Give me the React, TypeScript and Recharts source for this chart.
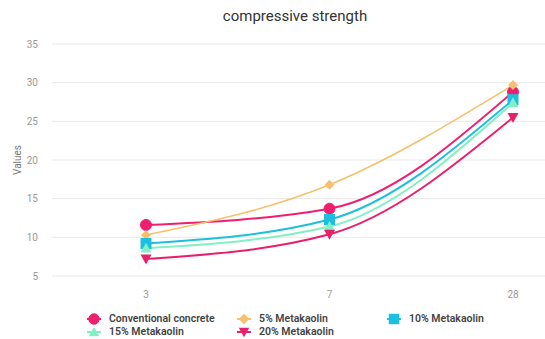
import React from "react";
import { LineChart, Line, XAxis, YAxis, CartesianGrid } from "recharts";

const categories = ["3", "7", "28"];
const conventional = [11.6, 13.7, 28.8];
const mk5 = [10.3, 16.8, 29.7];
const mk10 = [9.2, 12.3, 27.8];
const mk15 = [8.6, 11.4, 27.4];
const mk20 = [7.2, 10.4, 25.5];
const yTicks = [5, 10, 15, 20, 25, 30, 35];

const series = [
  { key: "c", name: "Conventional concrete", values: conventional, color: "#ee1f6f", shape: "circle", width: 2 },
  { key: "m5", name: "5% Metakaolin", values: mk5, color: "#f6c06c", shape: "diamond", width: 1.5 },
  { key: "m10", name: "10% Metakaolin", values: mk10, color: "#1cbfe0", shape: "square", width: 2 },
  { key: "m15", name: "15% Metakaolin", values: mk15, color: "#83efc4", shape: "triangle", width: 2 },
  { key: "m20", name: "20% Metakaolin", values: mk20, color: "#e8206c", shape: "invtriangle", width: 2 },
];

const data = categories.map((c, i) => {
  const row: any = { cat: c };
  series.forEach((s) => (row[s.key] = s.values[i]));
  return row;
});

function Marker({ cx, cy, shape, color, size = 1 }: any) {
  const r = 5.5 * size;
  if (shape === "circle") return <circle cx={cx} cy={cy} r={r} fill={color} stroke={color} />;
  if (shape === "diamond")
    return <polygon points={`${cx},${cy - r} ${cx + r},${cy} ${cx},${cy + r} ${cx - r},${cy}`} fill={color} />;
  if (shape === "square") return <rect x={cx - r} y={cy - r} width={2 * r} height={2 * r} fill={color} />;
  if (shape === "triangle")
    return <polygon points={`${cx},${cy - r} ${cx + r},${cy + r * 0.8} ${cx - r},${cy + r * 0.8}`} fill={color} />;
  return <polygon points={`${cx - r},${cy - r * 0.8} ${cx + r},${cy - r * 0.8} ${cx},${cy + r}`} fill={color} />;
}

const legendPos = [
  { left: 87, top: 312 },
  { left: 237, top: 312 },
  { left: 387, top: 312 },
  { left: 87, top: 325 },
  { left: 237, top: 325 },
];

export default function App() {
  return (
    <div style={{ position: "absolute", left: 0, top: 0, width: 545, height: 339, background: "#fff", fontFamily: "Roboto, sans-serif" }}>
      <div style={{ position: "absolute", left: 0, width: 545, top: 7, textAlign: "center", fontSize: 15, color: "#333", paddingLeft: 45, boxSizing: "border-box" }}>
        compressive strength
      </div>
      <div style={{ position: "absolute", left: 2, top: 160, transform: "translate(0,-50%) rotate(-90deg)", fontSize: 10, color: "#777" }}>
        Values
      </div>
      <LineChart width={545} height={339} data={data} margin={{ top: 44, right: 0, bottom: 43, left: 0 }}>
        <CartesianGrid vertical={false} stroke="#e8e8e8" />
        <XAxis
          dataKey="cat"
          axisLine={false}
          tickLine={false}
          padding={{ left: 94, right: 32 }}
          tick={{ fontSize: 10, fill: "#999" }}
          tickMargin={9}
          height={20}
        />
        <YAxis
          domain={[5, 35]}
          ticks={yTicks}
          axisLine={false}
          tickLine={false}
          width={52}
          tickSize={0}
          tickMargin={14}
          tick={{ fontSize: 10, fill: "#999" }}
        />
        {series.map((s) => (
          <Line
            key={s.key}
            dataKey={s.key}
            type="monotone"
            stroke={s.color}
            strokeWidth={s.width}
            isAnimationActive={false}
            dot={(p: any) => <Marker key={p.index} cx={p.cx} cy={p.cy} shape={s.shape} color={s.color} size={s.shape === "diamond" ? 0.9 : 1} />}
            activeDot={false}
          />
        ))}
      </LineChart>
      {series.map((s, i) => (
        <div key={s.key} style={{ position: "absolute", left: legendPos[i].left, top: legendPos[i].top, display: "flex", alignItems: "center", fontSize: 10.5, fontWeight: 600, color: "#444", whiteSpace: "nowrap" }}>
          <svg width={14} height={12} style={{ marginRight: 8 }}>
            <line x1={0} y1={6} x2={14} y2={6} stroke={s.color} strokeWidth={2} />
            <Marker cx={7} cy={6} shape={s.shape} color={s.color} size={0.95} />
          </svg>
          {s.name}
        </div>
      ))}
    </div>
  );
}
